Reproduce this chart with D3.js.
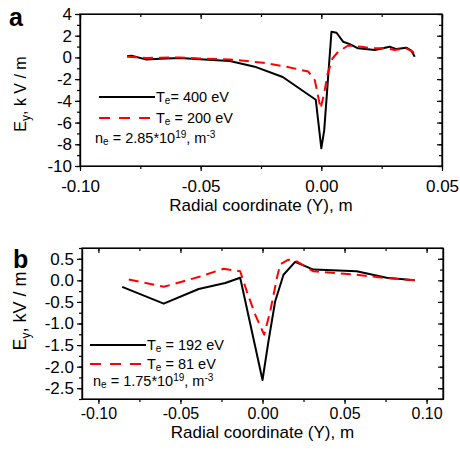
<!DOCTYPE html>
<html>
<head>
<meta charset="utf-8">
<script src="https://cdnjs.cloudflare.com/ajax/libs/d3/7.8.5/d3.min.js"></script>
<style>
    body { margin: 0; background: #fff; }
    svg text { font-family: "Liberation Sans", Arial, sans-serif; fill: #000; }
    .axis path, .axis line { stroke: #000; stroke-width: 1.2; }
</style>
</head>
<body>
<div id="chart"></div>
<script>
// panel a: Te = 400 eV / 200 eV
const xA400 = [-0.0805, -0.0786, -0.0724, -0.0669, -0.0586, -0.0503, -0.0379, -0.0276, -0.016, -0.0023,
    0.0, 0.0012, 0.0042, 0.0063, 0.0090, 0.0118, 0.0152, 0.0222, 0.0283, 0.0311, 0.0352, 0.0373, 0.0387];
const yA400 = [0.1, 0.15, -0.2, -0.12, -0.05, -0.17, -0.33, -0.85, -1.8, -3.9,
    -8.37, -6.7, 2.37, 2.27, 1.45, 1.23, 0.84, 0.68, 0.99, 0.77, 0.9, 0.62, 0.06];
const xA200 = [-0.0805, -0.0724, -0.0586, -0.0503, -0.0379, -0.0241, -0.0144, -0.0054, -0.0027, -0.0003,
    0.0012, 0.0025, 0.0046, 0.0070, 0.0111, 0.0166, 0.0208, 0.0270, 0.0304, 0.0352, 0.0380, 0.0387];
const yA200 = [0.07, -0.05, 0.0, -0.1, -0.18, -0.49, -0.86, -1.3, -2.1, -4.7,
    -3.3, -1.6, -0.1, 0.52, 1.1, 0.99, 0.84, 0.84, 0.68, 0.84, 0.52, 0.06];

// panel b: Te = 192 eV / 81 eV
const xB192 = [-0.0855, -0.0602, -0.0389, -0.0227, -0.0136, 0.0, 0.0036, 0.0077, 0.0128, 0.0199, 0.031, 0.0574, 0.0756, 0.0928];
const yB192 = [-0.15, -0.54, -0.2, -0.06, 0.06, -2.31, -1.42, -0.49, 0.13, 0.43, 0.25, 0.21, 0.06, 0.0];
const xB81 = [-0.0815, -0.0602, -0.0379, -0.0237, -0.0136, -0.0095, -0.0044, 0.001, 0.0047, 0.0088, 0.0108,
    0.0158, 0.0209, 0.031, 0.0574, 0.0736, 0.0928];
const yB81 = [0.02, -0.15, 0.09, 0.27, 0.21, -0.26, -0.8, -1.26, -0.72, 0.06, 0.37,
    0.48, 0.44, 0.21, 0.13, 0.06, 0.0];

// ticks
const xTicksA = [-0.10, -0.05, 0.00, 0.05];
const yTicksA = [-10, -8, -6, -4, -2, 0, 2, 4];
const xTicksB = [-0.10, -0.05, 0.00, 0.05, 0.10];
const yTicksB = [-2.5, -2.0, -1.5, -1.0, -0.5, 0.0, 0.5];

const W = 460, H = 450;
const svg = d3.select("#chart").append("svg").attr("width", W).attr("height", H);

function drawPanel(p) {
    let x = d3.scaleLinear().domain(p.xDomain).range([p.left, p.right]);
    let y = d3.scaleLinear().domain(p.yDomain).range([p.bottom, p.top]);
    let g = svg.append("g");

    let xMinor = d3.range(p.xDomain[0], p.xDomain[1] + 1e-9, p.xMinorStep)
        .map(v => Math.round(v / p.xMinorStep) * p.xMinorStep)
        .filter(v => v >= p.xDomain[0] && v <= p.xDomain[1]);
    let yMinor = d3.range(Math.ceil(p.yDomain[0] / p.yMinorStep) * p.yMinorStep, p.yDomain[1] + 1e-9, p.yMinorStep);

    // minor ticks
    g.append("g").attr("class", "axis").attr("transform", `translate(0,${p.bottom})`)
        .call(d3.axisBottom(x).tickValues(xMinor).tickSize(3).tickFormat("").tickSizeOuter(0));
    g.append("g").attr("class", "axis").attr("transform", `translate(0,${p.top})`)
        .call(d3.axisTop(x).tickValues(xMinor).tickSize(-3).tickFormat("").tickSizeOuter(0));
    g.append("g").attr("class", "axis").attr("transform", `translate(${p.left},0)`)
        .call(d3.axisLeft(y).tickValues(yMinor).tickSize(3).tickFormat("").tickSizeOuter(0));
    g.append("g").attr("class", "axis").attr("transform", `translate(${p.right},0)`)
        .call(d3.axisRight(y).tickValues(yMinor).tickSize(-3).tickFormat("").tickSizeOuter(0));

    // major ticks
    g.append("g").attr("class", "axis").attr("transform", `translate(0,${p.bottom})`)
        .call(d3.axisBottom(x).tickValues(p.xTicks).tickSize(5).tickPadding(p.xPad)
            .tickFormat(d3.format(".2f")).tickSizeOuter(0))
        .selectAll("text").style("font-size", p.tickSize);
    g.append("g").attr("class", "axis").attr("transform", `translate(0,${p.top})`)
        .call(d3.axisTop(x).tickValues(p.xTicks).tickSize(-5).tickFormat("").tickSizeOuter(0));
    g.append("g").attr("class", "axis").attr("transform", `translate(${p.left},0)`)
        .call(d3.axisLeft(y).tickValues(p.yTicks).tickSize(5).tickPadding(3)
            .tickFormat(p.yFormat).tickSizeOuter(0))
        .selectAll("text").style("font-size", "17px");
    g.append("g").attr("class", "axis").attr("transform", `translate(${p.right},0)`)
        .call(d3.axisRight(y).tickValues(p.yTicks).tickSize(-5).tickFormat("").tickSizeOuter(0));
    g.selectAll(".axis text").text(function () { return this.textContent.replace("\u2212", "-"); });

    // frame
    g.append("rect")
        .attr("x", p.left).attr("y", p.top)
        .attr("width", p.right - p.left).attr("height", p.bottom - p.top)
        .attr("fill", "none").attr("stroke", "#000").attr("stroke-width", 1.2);

    let line = d3.line().x(d => x(d[0])).y(d => y(d[1]));
    p.series.forEach(function (s) {
        g.append("path")
            .datum(d3.zip(s.xs, s.ys))
            .attr("d", line)
            .attr("fill", "none")
            .attr("stroke", s.color)
            .attr("stroke-width", 2)
            .attr("stroke-dasharray", s.dash)
            .attr("stroke-linejoin", "round");
    });

    // legend
    p.series.forEach(function (s, i) {
        let ly = p.legY + i * p.legGap;
        g.append("line")
            .attr("x1", p.legX).attr("x2", p.legX + 56)
            .attr("y1", ly).attr("y2", ly)
            .attr("stroke", s.color).attr("stroke-width", 2)
            .attr("stroke-dasharray", s.legDash);
        let t = g.append("text").attr("x", p.legX + 57).attr("y", ly + 5).style("font-size", "14.5px");
        t.append("tspan").text("T");
        t.append("tspan").attr("dy", 2).style("font-size", "10px").text("e");
        t.append("tspan").attr("dy", -2).text(s.label);
    });
    let n = g.append("text").attr("x", p.nX).attr("y", p.nY).style("font-size", "14.5px");
    n.append("tspan").text("n");
    n.append("tspan").attr("dy", 2).style("font-size", "10px").text("e");
    n.append("tspan").attr("dy", -2).text(" = " + p.density + "*10");
    n.append("tspan").attr("dy", -5).style("font-size", "10px").text("19");
    n.append("tspan").attr("dy", 5).text(", m");
    n.append("tspan").attr("dy", -5).style("font-size", "10px").text("-3");

    // axis titles
    g.append("text")
        .attr("x", (p.left + p.right) / 2).attr("y", p.xTitleY)
        .attr("text-anchor", "middle").style("font-size", "17px")
        .text("Radial coordinate (Y), m");
    let yt = g.append("text")
        .attr("transform", `translate(${p.yTitleX},${p.yTitleY}) rotate(-90)`)
        .attr("text-anchor", "middle").style("font-size", p.yTitleSize);
    yt.append("tspan").text("E");
    yt.append("tspan").attr("dy", 4).style("font-size", "12px").text("y");
    yt.append("tspan").attr("dy", -4).text(p.yUnit);

    svg.append("text")
        .attr("x", p.tagX).attr("y", p.tagY)
        .style("font-size", "25px").style("font-weight", "bold")
        .text(p.tag);
}

drawPanel({
    tag: "a", tagX: 9, tagY: 26,
    left: 80, right: 442, top: 14, bottom: 166,
    xDomain: [-0.10, 0.05], yDomain: [-10, 4],
    xTicks: xTicksA, yTicks: yTicksA, xMinorStep: 0.025, yMinorStep: 1,
    yFormat: d3.format("d"), xPad: 9, tickSize: "17px",
    xTitleY: 211, yTitleX: 26, yTitleY: 94, yTitleSize: "16px", yUnit: ", k V / m",
    legX: 99, legY: 97, legGap: 21, nX: 95, nY: 143, density: "2.85",
    series: [
        {xs: xA400, ys: yA400, color: "#000", dash: null, legDash: null, label: "= 400 eV"},
        {xs: xA200, ys: yA200, color: "#ff0000", dash: "10,6", legDash: "11,9", label: " = 200 eV"}
    ]
});

drawPanel({
    tag: "b", tagX: 13, tagY: 268,
    left: 82, right: 443, top: 248, bottom: 399,
    xDomain: [-0.11, 0.11], yDomain: [-2.75, 0.75],
    xTicks: xTicksB, yTicks: yTicksB, xMinorStep: 0.025, yMinorStep: 0.25,
    yFormat: d3.format(".1f"), xPad: 4, tickSize: "16px",
    xTitleY: 438, yTitleX: 26, yTitleY: 311, yTitleSize: "18px", yUnit: ", kV / m",
    legX: 90, legY: 345, legGap: 19, nX: 93, nY: 386, density: "1.75",
    series: [
        {xs: xB192, ys: yB192, color: "#000", dash: null, legDash: null, label: " = 192 eV"},
        {xs: xB81, ys: yB81, color: "#ff0000", dash: "10,6", legDash: "11,9", label: " = 81 eV"}
    ]
});
</script>
</body>
</html>
